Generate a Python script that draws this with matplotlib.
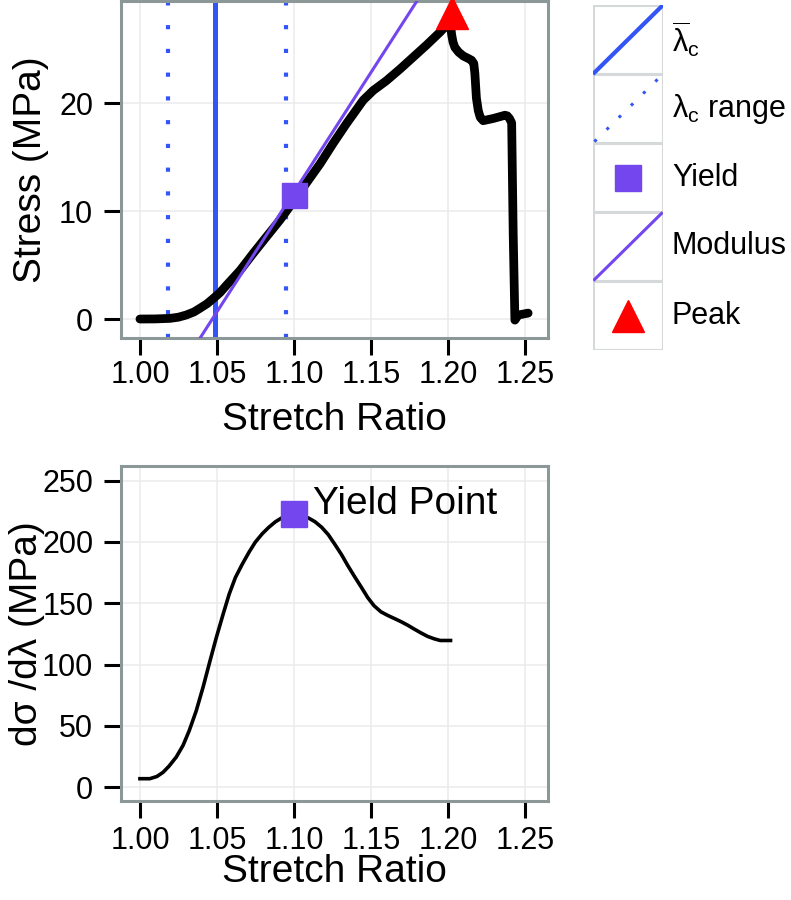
import matplotlib
matplotlib.use("Agg")
import matplotlib.pyplot as plt
from matplotlib.lines import Line2D
from matplotlib.patches import Rectangle

plt.rcParams['font.family'] = ['Liberation Sans', 'DejaVu Sans']
plt.rcParams['mathtext.fontset'] = 'custom'
plt.rcParams['mathtext.rm'] = 'Liberation Sans'
plt.rcParams['mathtext.it'] = 'Liberation Sans'
plt.rcParams['mathtext.sf'] = 'Liberation Sans'
plt.rcParams['mathtext.bf'] = 'Liberation Sans:bold'

# ---------------- data ----------------
stretch = [1.000, 1.010, 1.0195, 1.025, 1.030, 1.035, 1.039, 1.0436, 1.0476, 1.052,
           1.056, 1.065, 1.0736, 1.082, 1.091,
           1.0996, 1.108, 1.117, 1.1255, 1.134, 1.140, 1.145, 1.1515, 1.160, 1.169, 1.1775,
           1.186, 1.1948, 1.2002, 1.2013, 1.2018, 1.2024, 1.2033, 1.2045, 1.207, 1.210,
           1.2135, 1.2154, 1.2168, 1.2175, 1.2185, 1.2197, 1.2210,
           1.2229, 1.2294, 1.237, 1.2385, 1.2400, 1.2414, 1.2424, 1.2435, 1.2457, 1.2521]
stress = [0.0, 0.01, 0.06, 0.17, 0.37, 0.65, 1.0, 1.42, 1.9, 2.45,
          3.1, 4.5, 6.1, 7.6, 9.2,
          10.9, 12.6, 14.4, 16.3, 18.1, 19.3, 20.3, 21.2, 22.1, 23.2, 24.3,
          25.4, 26.6, 27.4, 27.7, 27.2, 26.4, 25.7, 25.2, 24.75, 24.4,
          24.15, 24.0, 23.7, 22.8, 20.5, 19.35, 18.7,
          18.4, 18.6, 18.9, 18.85, 18.6, 18.2, 7.9, -0.1, 0.37, 0.55]

deriv_x = [1.000, 1.0064, 1.011, 1.015, 1.019, 1.0236, 1.028, 1.032, 1.0365, 1.041,
           1.0453, 1.0496, 1.054, 1.058, 1.062, 1.0665, 1.071, 1.075, 1.0795,
           1.0837, 1.088, 1.092, 1.096, 1.0998, 1.1045, 1.1094, 1.1137, 1.118, 1.1223,
           1.1266, 1.131, 1.135, 1.1395, 1.1438, 1.148, 1.152, 1.1565, 1.161, 1.1653,
           1.1695, 1.174, 1.178, 1.1825, 1.1867, 1.191, 1.195, 1.2017]
deriv_y = [6.8, 6.8, 8.6, 12.0, 17.2, 24.5, 34.0, 46.0, 62.0, 81.5,
           102.0, 122.0, 141.0, 157.6, 171.0, 182.0, 192.0, 200.0, 206.8,
           212.0, 216.5, 219.6, 221.5, 222.0, 221.3, 219.6, 216.5, 212.0, 206.0,
           198.0, 189.5, 180.7, 171.5, 163.0, 154.5, 148.0, 143.0, 140.0, 137.5,
           135.0, 132.0, 129.0, 125.8, 123.0, 121.0, 119.6, 119.6]

lambda_c_mean = 1.049
lambda_c_range = [1.0184, 1.0948]
yield_x, yield_stress, yield_modulus = 1.1002, 11.55, 223.0
modulus_slope = 222.0
modulus_x0 = 1.047
peak_x, peak_stress = 1.2025, 28.4

x_ticks = [1.00, 1.05, 1.10, 1.15, 1.20, 1.25]
x_ticklabels = ["1.00", "1.05", "1.10", "1.15", "1.20", "1.25"]
y1_ticks = [0, 10, 20]
y2_ticks = [0, 50, 100, 150, 200, 250]

legend_labels = [r'$\overline{\lambda}_{\mathrm{c}}$', r'$\lambda_{\mathrm{c}}$ range',
                 'Yield', 'Modulus', 'Peak']

# ---------------- style ----------------
BLUE = '#3355F5'
PURPLE = '#7446EE'
RED = '#FF0000'
BORDER = '#8C9898'
GRID = '#EBEBEB'
W, H = 791, 900

fig = plt.figure(figsize=(7.91, 9), dpi=100)

def px_axes(l, t, r, b):
    return fig.add_axes([l / W, 1 - b / H, (r - l) / W, (b - t) / H])

ax1 = px_axes(121, 1, 548, 338)
ax2 = px_axes(121, 466, 548, 801)

def style(ax, yticks, ylim, xpad):
    ax.set_xticks(x_ticks)
    ax.set_xticklabels(x_ticklabels)
    ax.set_yticks(yticks)
    ax.set_xlim(0.9877, 1.265)
    ax.set_ylim(*ylim)
    ax.grid(True, which='major', color=GRID, lw=1.1, zorder=0)
    ax.set_axisbelow(True)
    for s in ax.spines.values():
        s.set_color(BORDER)
        s.set_linewidth(2.2)
    ax.tick_params(which='major', length=12, width=2.2, color='black', labelsize=22)
    ax.tick_params(axis='x', which='major', pad=xpad)
    ax.tick_params(axis='y', which='major', pad=8)

style(ax1, y1_ticks, (-1.76, 29.5), 4.0)
style(ax2, y2_ticks, (-11.4, 262), 6.0)

# top panel
ax1.axvline(lambda_c_mean, color=BLUE, lw=3.6, zorder=2)
for v in lambda_c_range:
    ax1.axvline(v, color=BLUE, lw=3.0, linestyle=(0, (1.0, 4.7)), zorder=2)
ax1.plot(stretch, stress, color='black', lw=6.3, solid_joinstyle='round',
         solid_capstyle='round', zorder=3)
ax1.axline((modulus_x0, 0), slope=modulus_slope, color=PURPLE, lw=2.2, zorder=4)
ax1.plot([yield_x], [yield_stress], marker='s', ms=18, color=PURPLE, lw=0, zorder=5)
ax1.plot([peak_x], [peak_stress], marker='^', ms=23, color=RED, lw=0, zorder=5,
         clip_on=False)

ax1.set_xlabel('Stretch Ratio', fontsize=28)
ax1.xaxis.set_label_coords(0.5, -(420 - 338) / 337, transform=ax1.transAxes)
ax1.xaxis.label.set_va('center')
ax1.set_ylabel('Stress (MPa)', fontsize=28)
ax1.yaxis.set_label_coords((31 - 121) / 427, 0.5, transform=ax1.transAxes)
ax1.yaxis.label.set_va('center')

# bottom panel
ax2.plot(deriv_x, deriv_y, color='black', lw=2.6, solid_joinstyle='round', zorder=3)
ax2.plot([yield_x], [yield_modulus], marker='s', ms=18.5, color=PURPLE, lw=0, zorder=5)
ax2.text(1.1125, 231, 'Yield Point', fontsize=28, ha='left', va='center', zorder=6)
ax2.set_xlabel('Stretch Ratio', fontsize=28)
ax2.xaxis.set_label_coords(0.5, -(872 - 801) / 335, transform=ax2.transAxes)
ax2.xaxis.label.set_va('center')
ax2.set_ylabel('dσ /dλ (MPa)', fontsize=28)
ax2.yaxis.set_label_coords((27 - 121) / 427, 0.5, transform=ax2.transAxes)
ax2.yaxis.label.set_va('center')

# legend (manual, ggplot-like keys)
lg = px_axes(593, 5, 663, 350)
lg.set_xlim(0, 1)
lg.set_ylim(5, 0)
lg.axis('off')
KEY_BORDER = '#D6D9D9'
for i in range(5):
    lg.add_patch(Rectangle((0, i), 1, 1, facecolor='white', edgecolor=KEY_BORDER,
                           lw=2.2, zorder=1))
lg.add_line(Line2D([0.02, 0.98], [0.98, 0.02], color=BLUE, lw=3.0, zorder=2))
lg.add_line(Line2D([0.02, 0.98], [1.98, 1.02], color=BLUE, lw=2.2,
                   linestyle=(0, (1.0, 4.6)), zorder=2))
lg.plot([0.5], [2.5], marker='s', ms=18.5, color=PURPLE, lw=0, zorder=3)
lg.add_line(Line2D([0.02, 0.98], [3.98, 3.02], color=PURPLE, lw=2.2, zorder=2))
lg.plot([0.5], [4.5], marker='^', ms=23, color=RED, lw=0, zorder=3)
for i, lab in enumerate(legend_labels):
    fig.text(672 / W, 1 - (5 + 69 * i + 34.5) / H, lab, fontsize=22,
             ha='left', va='center')

fig.savefig('out.png', dpi=100)
